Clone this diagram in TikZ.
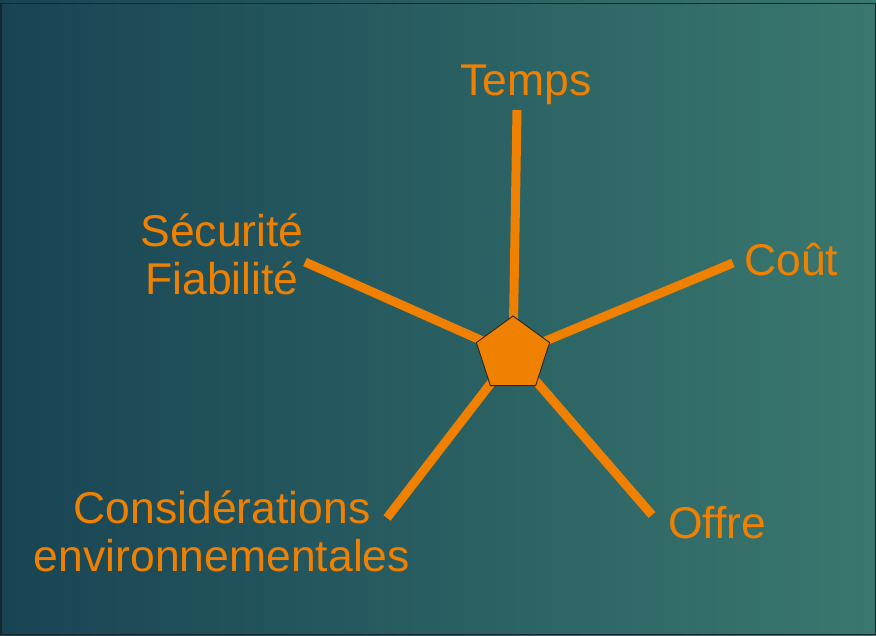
\documentclass[tikz,border=0pt]{standalone}
\usepackage{fontspec}
\setmainfont{Liberation Sans}
\usetikzlibrary{shapes.geometric}
\definecolor{bgdark}{RGB}{24,68,84}
\definecolor{bgmid}{RGB}{40,96,97}
\definecolor{bglight}{RGB}{58,120,111}
\definecolor{frame}{RGB}{22,40,46}
\definecolor{org}{RGB}{240,128,0}
\begin{document}
\begin{tikzpicture}[x=1pt,y=-1pt,
  lbl/.style={text=org,inner sep=0pt,font=\fontsize{44.5}{48}\selectfont},
  spoke/.style={draw=org,line width=9pt},
  hub/.style={regular polygon,regular polygon sides=5,minimum size=77pt,inner sep=0pt,fill=org,draw=black!85,line width=0.9pt}]
\useasboundingbox (0,0) rectangle (876,636);
\shade[left color=bgdark,middle color=bgmid,right color=bglight] (0,0) rectangle (876,636);
\draw[frame,line width=1.5pt] (0.75,3.5) rectangle (875.25,634.5);
% end points
\coordinate (eT) at (517,110);
\coordinate (eC) at (733,263);
\coordinate (eS) at (305,262);
\coordinate (eE) at (387,518);
\coordinate (eO) at (652,515);
\coordinate (ctr) at (513,354.5);
% spokes
\draw[spoke] (ctr) -- (eT);
\draw[spoke] (ctr) -- (eC);
\draw[spoke] (ctr) -- (eS);
\draw[spoke] (ctr) -- (eE);
\draw[spoke] (ctr) -- (eO);
\node[hub] (p) at (ctr) {};
% labels
\node[lbl,anchor=base west] (temps) at (460,96) {Temps};
\node[lbl,anchor=base west] (cout) at (744,276) {Coût};
\node[lbl,anchor=base west] (offre) at (668,538) {Offre};
\node[lbl,anchor=base,align=center] (secu) at (222,295) {Sécurité\\Fiabilité};
\node[lbl,anchor=base,align=center] (env) at (222,571) {Considérations\\environnementales};
\end{tikzpicture}
\end{document}
